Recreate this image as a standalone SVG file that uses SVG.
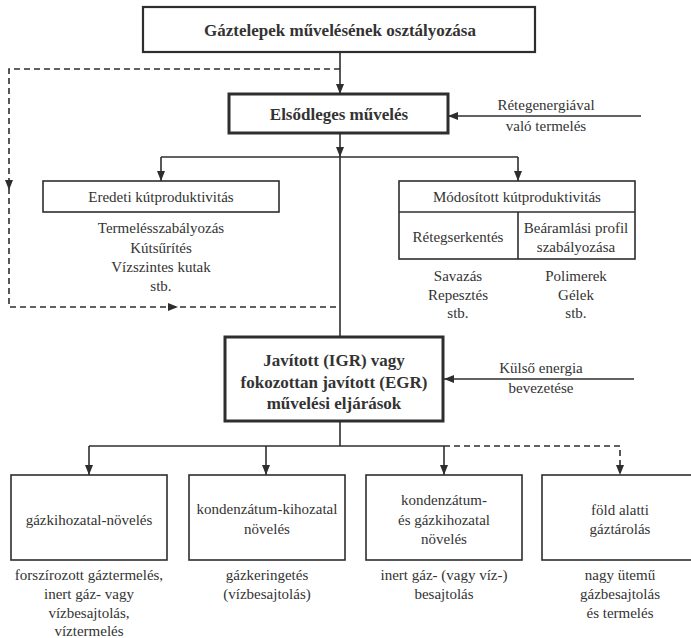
<svg xmlns="http://www.w3.org/2000/svg" width="691" height="638" viewBox="0 0 691 638" font-family="Liberation Serif, DejaVu Serif, serif">
<defs>
<marker id="ah" markerUnits="userSpaceOnUse" markerWidth="10" markerHeight="8" refX="10" refY="4" orient="auto">
<path d="M0,0 L10,4 L0,8 z" fill="#2e2e2e"/>
</marker>
<style>
text{font-family:'Liberation Serif','DejaVu Serif',serif;fill:#333;text-anchor:middle;font-size:15px}
.b{font-weight:bold;font-size:17px}
.box{fill:#fff;stroke:#2e2e2e;stroke-width:1.6}
.thick{fill:#fff;stroke:#2e2e2e;stroke-width:3}
.mid{fill:#fff;stroke:#2e2e2e;stroke-width:2.2}
.ln{fill:none;stroke:#2e2e2e;stroke-width:1.6}
.ar{fill:none;stroke:#2e2e2e;stroke-width:1.6;marker-end:url(#ah)}
.ds{fill:none;stroke:#2e2e2e;stroke-width:1.6;stroke-dasharray:6,4}
</style>
</defs>
<rect width="691" height="638" fill="#fff"/>
<g id="connectors">
<line class="ar" x1="340" y1="52" x2="340" y2="94"/>
<path class="ds" d="M340,69 H9 V307 H340"/>
<path d="M5,180 L13,180 L9,190 z" fill="#2e2e2e"/>
<path d="M168,303 L178,307 L168,311 z" fill="#2e2e2e"/>
<line class="ar" x1="340" y1="133" x2="340" y2="157"/>
<line class="ln" x1="340" y1="157" x2="340" y2="337"/>
<line class="ln" x1="161" y1="157" x2="518" y2="157"/>
<line class="ar" x1="161" y1="157" x2="161" y2="181"/>
<line class="ar" x1="518" y1="157" x2="518" y2="181"/>
<line class="ar" x1="641" y1="116" x2="448" y2="116"/>
<line class="ar" x1="634" y1="379" x2="444" y2="379"/>
<line class="ln" x1="340" y1="421" x2="340" y2="446"/>
<line class="ln" x1="89" y1="446" x2="444" y2="446"/>
<path class="ds" d="M444,446 H620 V465"/>
<path d="M616,465 L624,465 L620,475 z" fill="#2e2e2e"/>
<line class="ar" x1="89" y1="446" x2="89" y2="475"/>
<line class="ar" x1="266" y1="446" x2="266" y2="475"/>
<line class="ar" x1="444" y1="446" x2="444" y2="475"/>
</g>
<g id="n-top">
<rect class="mid" x="143" y="7" width="392" height="45"/>
<text class="b" x="340" y="36">Gáztelepek művelésének osztályozása</text>
</g>
<g id="n-elsodleges">
<rect class="thick" x="229" y="94" width="219" height="39"/>
<text class="b" x="339" y="120">Elsődleges művelés</text>
</g>
<g id="n-retegenergia">
<text x="546" y="110">Rétegenergiával</text>
<text x="546" y="131">való termelés</text>
</g>
<g id="n-eredeti">
<rect class="box" x="43" y="181" width="236" height="31"/>
<text x="161" y="202">Eredeti kútproduktivitás</text>
<text x="161" y="233">Termelésszabályozás</text>
<text x="161" y="253">Kútsűrítés</text>
<text x="161" y="272">Vízszintes kutak</text>
<text x="161" y="291">stb.</text>
</g>
<g id="n-modositott">
<rect class="box" x="399" y="181" width="236" height="78"/>
<line class="ln" x1="399" y1="212" x2="635" y2="212"/>
<line class="ln" x1="518" y1="212" x2="518" y2="259"/>
<text x="517" y="202">Módosított kútproduktivitás</text>
<text x="458" y="242">Rétegserkentés</text>
<text x="576" y="233">Beáramlási profil</text>
<text x="576" y="252">szabályozása</text>
<text x="458" y="281">Savazás</text>
<text x="458" y="300">Repesztés</text>
<text x="458" y="318">stb.</text>
<text x="576" y="281">Polimerek</text>
<text x="576" y="300">Gélek</text>
<text x="576" y="318">stb.</text>
</g>
<g id="n-javitott">
<rect class="thick" x="225" y="337" width="218" height="84"/>
<text class="b" x="334" y="366">Javított (IGR) vagy</text>
<text class="b" x="334" y="388">fokozottan javított (EGR)</text>
<text class="b" x="334" y="409">művelési eljárások</text>
</g>
<g id="n-kulso">
<text x="541" y="373">Külső energia</text>
<text x="541" y="393">bevezetése</text>
</g>
<g id="n-gaz">
<rect class="box" x="11" y="475" width="156" height="85"/>
<text x="89" y="525">gázkihozatal-növelés</text>
<text x="89" y="580">forszírozott gáztermelés,</text>
<text x="89" y="599">inert gáz- vagy</text>
<text x="89" y="618">vízbesajtolás,</text>
<text x="89" y="636">víztermelés</text>
</g>
<g id="n-kond">
<rect class="box" x="189" y="475" width="156" height="85"/>
<text x="267" y="514">kondenzátum-kihozatal</text>
<text x="267" y="534">növelés</text>
<text x="267" y="580">gázkeringetés</text>
<text x="267" y="599">(vízbesajtolás)</text>
</g>
<g id="n-kondgaz">
<rect class="box" x="366" y="475" width="156" height="85"/>
<text x="444" y="505">kondenzátum-</text>
<text x="444" y="525">és gázkihozatal</text>
<text x="444" y="544">növelés</text>
<text x="444" y="580">inert gáz- (vagy víz-)</text>
<text x="444" y="599">besajtolás</text>
</g>
<g id="n-fold">
<rect class="box" x="542" y="475" width="156" height="85"/>
<text x="620" y="515">föld alatti</text>
<text x="620" y="534">gáztárolás</text>
<text x="620" y="580">nagy ütemű</text>
<text x="620" y="599">gázbesajtolás</text>
<text x="620" y="618">és termelés</text>
</g>
</svg>
